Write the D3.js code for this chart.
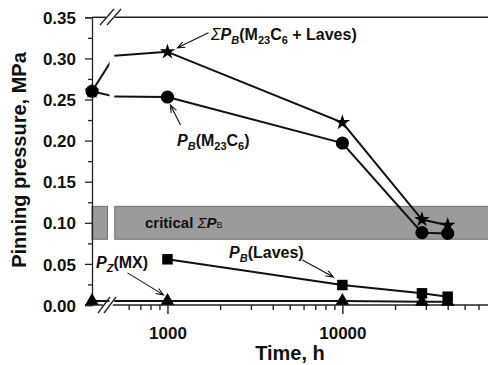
<!DOCTYPE html>
<html>
<head>
<meta charset="utf-8">
<script src="https://cdn.jsdelivr.net/npm/d3@7"></script>
<style>
  html, body { margin: 0; padding: 0; background: #fff; }
  svg { display: block; }
  text { font-family: "Liberation Sans", Arial, sans-serif; fill: #111; }
</style>
</head>
<body>
<svg id="chart" width="488" height="365"></svg>
<script>
// Ageing times (h); 0 = as-tempered state, drawn left of the axis break
const times = [0, 1000, 10000, 28500, 40000];
// Pinning pressures (MPa)
const sumPB    = [0.260, 0.308, 0.222, 0.104, 0.097];   // ΣP_B(M23C6 + Laves)
const pbM23C6  = [0.260, 0.253, 0.197, 0.088, 0.087];   // P_B(M23C6)
const pbLaves  = [null, 0.0556, 0.0243, 0.0142, 0.0101]; // P_B(Laves)
const pzMX     = [0.005, 0.005, 0.005, 0.004, 0.004];   // P_Z(MX)
// Critical ΣP_B band (MPa)
const criticalBand = [0.08, 0.12];
// Axis ticks
const yTicks = [0, 0.05, 0.10, 0.15, 0.20, 0.25, 0.30, 0.35];
const yMinorTicks = [0.025, 0.075, 0.125, 0.175, 0.225, 0.275, 0.325];
const xMajorTicks = [1000, 10000];
const xMinorTicks = [600, 700, 800, 900, 2000, 3000, 4000, 5000, 6000, 7000, 8000, 9000,
                     20000, 30000, 40000, 50000, 60000];

const svg = d3.select("#chart");

// Layout
const plotL = 92, plotR = 488, plotT = 17.3, plotB = 305;
const breakL = 107.5, breakR = 114.8;

const y = d3.scaleLinear().domain([0, 0.35]).range([plotB, plotT]);
// log-scaled time after the break
const x = d3.scaleLog().domain([500, 68000]).range([breakR, plotR]);
// compressed linear scale used left of the break (as-tempered point sits on the y axis)
const xLeft = d3.scaleLinear().domain([0, 1000]).range([plotL, 117]);
// virtual log position of the as-tempered state for the segment right of the break
const t0Log = 1;

const defs = svg.append("defs");
defs.append("clipPath").attr("id", "clipLeft")
  .append("rect").attr("x", 0).attr("y", 0).attr("width", 109.5).attr("height", 365);
defs.append("clipPath").attr("id", "clipRight")
  .append("rect").attr("x", breakR - 0.5).attr("y", 0).attr("width", 488).attr("height", 365);

// Critical band, split at the break
const band = svg.append("g");
band.append("rect")
  .attr("x", plotL).attr("y", y(criticalBand[1]))
  .attr("width", breakL - plotL).attr("height", y(criticalBand[0]) - y(criticalBand[1]))
  .attr("fill", "#9b9b9b").attr("stroke", "#6f6f6f").attr("stroke-width", 1);
band.append("rect")
  .attr("x", breakR).attr("y", y(criticalBand[1]))
  .attr("width", plotR + 5 - breakR).attr("height", y(criticalBand[0]) - y(criticalBand[1]))
  .attr("fill", "#9b9b9b").attr("stroke", "#6f6f6f").attr("stroke-width", 1);

// Band label: critical ΣP_B
const crit = svg.append("text").attr("x", 145).attr("y", 227.5)
  .style("font-size", "15px").style("font-weight", "bold");
crit.append("tspan").text("critical ");
crit.append("tspan").style("font-style", "italic").style("font-weight", "normal").text("Σ");
crit.append("tspan").style("font-style", "italic").text("P");
crit.append("tspan").style("font-size", "9px").style("font-weight", "normal").text("B");

// Y axis
const yAxis = svg.append("g").attr("transform", `translate(${plotL},0)`);
yAxis.call(d3.axisLeft(y).tickValues(yTicks).tickSize(7).tickFormat(d3.format(".2f")))
  .call(g => g.select(".domain").attr("stroke", "#222").attr("stroke-width", 1.3))
  .call(g => g.selectAll(".tick line").attr("stroke", "#222").attr("stroke-width", 1.3))
  .call(g => g.selectAll(".tick text").attr("x", -16).attr("dy", "0.36em")
      .style("font-size", "17px").style("font-weight", "bold")
      .style("font-family", "'Liberation Sans', Arial, sans-serif").attr("fill", "#111"));
const yMinor = svg.append("g").attr("transform", `translate(${plotL},0)`);
yMinor.call(d3.axisLeft(y).tickValues(yMinorTicks).tickSize(4).tickFormat(""))
  .call(g => g.select(".domain").remove())
  .call(g => g.selectAll(".tick line").attr("stroke", "#222").attr("stroke-width", 1.3));

// Top frame line with break gap
svg.append("line").attr("x1", plotL).attr("x2", 106).attr("y1", plotT).attr("y2", plotT)
  .attr("stroke", "#222").attr("stroke-width", 1.5);
svg.append("line").attr("x1", 115).attr("x2", plotR).attr("y1", plotT).attr("y2", plotT)
  .attr("stroke", "#222").attr("stroke-width", 1.5);

// X axis (log part)
const xAxisG = svg.append("g").attr("transform", `translate(0,${plotB})`);
xAxisG.call(d3.axisBottom(x).tickValues(xMajorTicks).tickSize(9).tickFormat(d3.format("d")))
  .call(g => g.select(".domain").attr("d", `M${breakR - 2},0H${plotR + 2}`)
      .attr("stroke", "#222").attr("stroke-width", 1.5))
  .call(g => g.selectAll(".tick line").attr("stroke", "#222").attr("stroke-width", 1.4))
  .call(g => g.selectAll(".tick text").attr("y", 22).attr("dy", "0.71em")
      .style("font-size", "17px").style("font-weight", "bold")
      .style("font-family", "'Liberation Sans', Arial, sans-serif").attr("fill", "#111"));
const xMinor = svg.append("g").attr("transform", `translate(0,${plotB})`);
xMinor.call(d3.axisBottom(x).tickValues(xMinorTicks).tickSize(5).tickFormat(""))
  .call(g => g.select(".domain").remove())
  .call(g => g.selectAll(".tick line").attr("stroke", "#222").attr("stroke-width", 1.4));
// X axis stub left of the break
svg.append("line").attr("x1", 85).attr("x2", 103).attr("y1", plotB).attr("y2", plotB)
  .attr("stroke", "#222").attr("stroke-width", 1.5);

// Axis break marks
const breakMarks = svg.append("g").attr("stroke", "#222").attr("stroke-width", 1.3);
[[100, 25, 114, 9], [107, 25, 121, 9], [98, 313, 110, 297], [104, 313, 116, 297]]
  .forEach(([x1, y1, x2, y2]) => breakMarks.append("line")
    .attr("x1", x1).attr("y1", y1).attr("x2", x2).attr("y2", y2));

// Series
const series = [
  { values: pzMX, symbol: d3.symbolTriangle, size: 80 },
  { values: pbLaves, symbol: d3.symbolSquare, size: 110 },
  { values: pbM23C6, symbol: d3.symbolCircle, size: 135 },
  { values: sumPB, symbol: d3.symbolStar, size: 75 }
];

series.forEach(s => {
  const pts = times.map((t, i) => ({ t, v: s.values[i] })).filter(d => d.v != null);
  const hasT0 = pts[0].t === 0;
  const later = pts.filter(d => d.t > 0);

  // main line on the log axis
  svg.append("path").datum(later)
    .attr("d", d3.line().x(d => x(d.t)).y(d => y(d.v)))
    .attr("fill", "none").attr("stroke", "#111").attr("stroke-width", 2);

  if (hasT0) {
    const pair = [pts[0], later[0]];
    // connector left of the break
    svg.append("path").datum(pair).attr("clip-path", "url(#clipLeft)")
      .attr("d", d3.line().x(d => xLeft(d.t)).y(d => y(d.v)))
      .attr("fill", "none").attr("stroke", "#111").attr("stroke-width", 2);
    // connector right of the break
    svg.append("path").datum(pair).attr("clip-path", "url(#clipRight)")
      .attr("d", d3.line().x(d => x(d.t === 0 ? t0Log : d.t)).y(d => y(d.v)))
      .attr("fill", "none").attr("stroke", "#111").attr("stroke-width", 2);
  }

  svg.append("g").selectAll("path").data(pts).join("path")
    .attr("transform", d => `translate(${d.t === 0 ? plotL : x(d.t)},${y(d.v)})`)
    .attr("d", d3.symbol().type(s.symbol).size(s.size))
    .attr("fill", "#000");
});

// Annotation arrows
function arrow(x1, y1, x2, y2) {
  const a = Math.atan2(y2 - y1, x2 - x1), L = 8, w = 0.38;
  svg.append("path")
    .attr("d", `M${x1},${y1}L${x2},${y2}` +
      `M${x2 - L * Math.cos(a - w)},${y2 - L * Math.sin(a - w)}L${x2},${y2}` +
      `L${x2 - L * Math.cos(a + w)},${y2 - L * Math.sin(a + w)}`)
    .attr("fill", "none").attr("stroke", "#111").attr("stroke-width", 1.1);
}
const px = (t, v) => [x(t), y(v)];
{ const [sx, sy] = px(times[1], sumPB[1]);   arrow(sx + 41, sy - 19, sx + 10, sy - 4); }
{ const [sx, sy] = px(times[1], pbM23C6[1]); arrow(sx + 13, sy + 28, sx + 3, sy + 8); }
{ const [sx, sy] = px(times[2], pbLaves[2]); arrow(sx - 40, sy - 25, sx - 9, sy - 8); }
{ const [sx, sy] = px(times[1], pzMX[1]);    arrow(sx - 40, sy - 28, sx - 4, sy - 6); }

// Rich-text labels
function label(xp, yp, parts) {
  const t = svg.append("text").attr("x", xp).attr("y", yp)
    .style("font-size", "16px").style("font-weight", "bold");
  parts.forEach(p => {
    const sp = t.append("tspan").text(p.text);
    if (p.italic) sp.style("font-style", "italic");
    if (p.normal) sp.style("font-weight", "normal");
    if (p.sub) sp.style("font-size", "11px").attr("dy", 4);
    if (p.up) sp.attr("dy", -4);
  });
  return t;
}
label(211, 40, [
  { text: "Σ", italic: true, normal: true },
  { text: "P", italic: true },
  { text: "B", italic: true, sub: true },
  { text: "(M", up: true },
  { text: "23", sub: true },
  { text: "C", up: true },
  { text: "6", sub: true },
  { text: " + Laves)", up: true }
]);
label(177, 146, [
  { text: "P", italic: true },
  { text: "B", italic: true, sub: true },
  { text: "(M", up: true },
  { text: "23", sub: true },
  { text: "C", up: true },
  { text: "6", sub: true },
  { text: ")", up: true }
]);
label(229, 258, [
  { text: "P", italic: true },
  { text: "B", italic: true, sub: true },
  { text: "(Laves)", up: true }
]);
label(96, 268, [
  { text: "P", italic: true },
  { text: "Z", italic: true, sub: true },
  { text: "(MX)", up: true }
]);

// Axis titles
svg.append("text").attr("transform", "translate(26,160) rotate(-90)")
  .attr("text-anchor", "middle").style("font-size", "20px").style("font-weight", "bold")
  .text("Pinning pressure, MPa");
svg.append("text").attr("x", 290).attr("y", 360)
  .attr("text-anchor", "middle").style("font-size", "20px").style("font-weight", "bold")
  .text("Time, h");
</script>
</body>
</html>
